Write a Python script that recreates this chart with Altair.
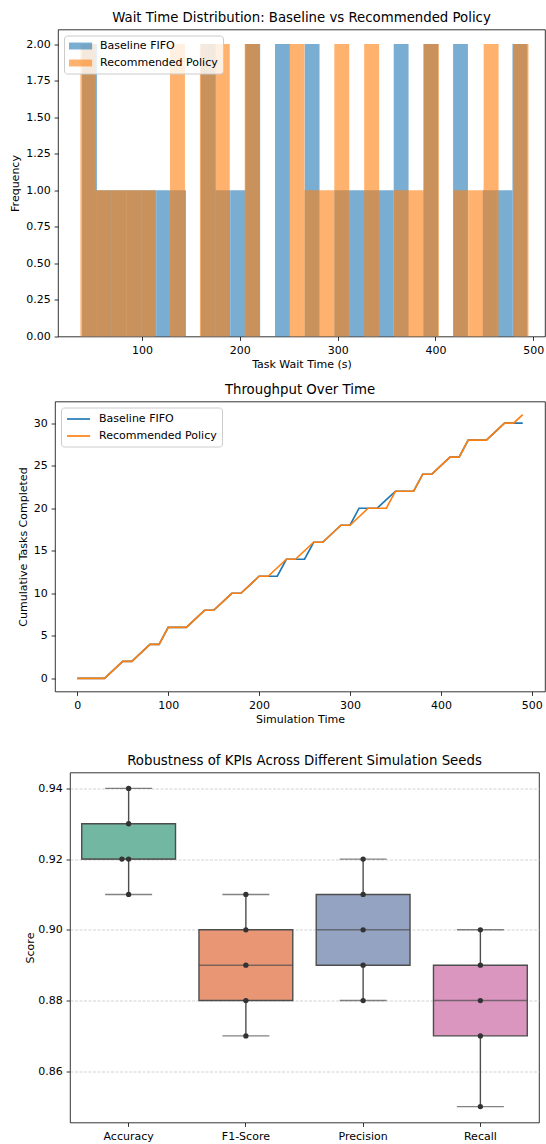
import altair as alt
import numpy as np
import pandas as pd

FONT = "DejaVu Sans"

# ---------------- Panel 1: wait-time histogram (30 bins per series) ----------------
hist_series = ["Baseline FIFO", "Recommended Policy"]
baseline_counts = [2, 1, 1, 1, 1, 1, 1, 0, 2, 1, 1, 2, 0, 2, 0,
                   2, 0, 1, 1, 1, 1, 2, 0, 2, 0, 2, 0, 1, 1, 2]
recommended_counts = [2, 1, 1, 1, 1, 0, 2, 0, 2, 2, 0, 2, 0, 0, 2,
                      1, 1, 2, 0, 2, 0, 1, 1, 2, 0, 1, 1, 2, 0, 2]
baseline_range = [38.7, 493.9]
recommended_range = [37.0, 495.1]

# ---------------- Panel 2: cumulative throughput ----------------
line_series = ["Baseline FIFO", "Recommended Policy"]
sim_time = [0, 10, 20, 30, 40, 50, 60, 70, 80, 90,
            100, 110, 120, 130, 140, 150, 160, 170, 180, 190,
            200, 210, 220, 230, 240, 250, 260, 270, 280, 290,
            300, 310, 320, 330, 340, 350, 360, 370, 380, 390,
            400, 410, 420, 430, 440, 450, 460, 470, 480, 490]
baseline_cum = [0, 0, 0, 0, 1, 2, 2, 3, 4, 4,
                6, 6, 6, 7, 8, 8, 9, 10, 10, 11,
                12, 12, 12, 14, 14, 14, 16, 16, 17, 18,
                18, 20, 20, 20, 21, 22, 22, 22, 24, 24,
                25, 26, 26, 28, 28, 28, 29, 30, 30, 30]
recommended_cum = [0, 0, 0, 0, 1, 2, 2, 3, 4, 4,
                   6, 6, 6, 7, 8, 8, 9, 10, 10, 11,
                   12, 12, 13, 14, 14, 15, 16, 16, 17, 18,
                   18, 19, 20, 20, 20, 22, 22, 22, 24, 24,
                   25, 26, 26, 28, 28, 28, 29, 30, 30, 31]

# ---------------- Panel 3: KPI robustness ----------------
kpi_names = ["Accuracy", "F1-Score", "Precision", "Recall"]
accuracy_scores = [0.92, 0.93, 0.94, 0.91, 0.92]
f1_scores = [0.89, 0.90, 0.91, 0.88, 0.87]
precision_scores = [0.90, 0.91, 0.92, 0.89, 0.88]
recall_scores = [0.88, 0.89, 0.90, 0.87, 0.85]
kpi_colors = ["#72b7a1", "#e99675", "#95a3c3", "#db96c0"]

BLUE = "#1f77b4"
ORANGE = "#ff7f0e"
GRAY = "#4d4d4d"
LABEL_SIZE = 11
TITLE_SIZE = 13.3

# ---------- build tables ----------
hist_rows = []
for name, counts, rng in [(hist_series[0], baseline_counts, baseline_range),
                          (hist_series[1], recommended_counts, recommended_range)]:
    edges = np.linspace(rng[0], rng[1], len(counts) + 1)
    for i, c in enumerate(counts):
        if c > 0:
            hist_rows.append({"series": name, "start": edges[i], "end": edges[i + 1],
                              "count": c, "zero": 0})
hist_df = pd.DataFrame(hist_rows)

line_df = pd.DataFrame({
    "time": sim_time + sim_time,
    "tasks": baseline_cum + recommended_cum,
    "series": [line_series[0]] * len(sim_time) + [line_series[1]] * len(sim_time),
})

box_rows, point_rows = [], []
for kpi, scores in zip(kpi_names, [accuracy_scores, f1_scores, precision_scores, recall_scores]):
    arr = np.array(scores)
    q1, med, q3 = np.percentile(arr, [25, 50, 75])
    iqr = q3 - q1
    lo = arr[arr >= q1 - 1.5 * iqr].min()
    hi = arr[arr <= q3 + 1.5 * iqr].max()
    box_rows.append({"kpi": kpi, "q1": q1, "median": med, "q3": q3, "lo": lo, "hi": hi})
    seen = {}
    for s in scores:
        k = seen.get(round(s, 4), 0)
        seen[round(s, 4)] = k + 1
        point_rows.append({"kpi": kpi, "score": s, "dodge": -k})
box_df = pd.DataFrame(box_rows)
point_df = pd.DataFrame(point_rows)

legend_common = dict(title=None, orient="top-left", offset=5.5,
                     labelFont=FONT, labelFontSize=LABEL_SIZE, labelColor="black",
                     labelOffset=20, rowPadding=5, padding=5, symbolSize=121,
                     fillColor="rgba(255,255,255,0.8)", strokeColor="#cccccc",
                     cornerRadius=3)

# ---------- Panel 1 ----------
hist = alt.Chart(hist_df).mark_rect(opacity=0.6).encode(
    x=alt.X("start:Q", scale=alt.Scale(domain=[14.1, 512.0], nice=False, zero=False),
            axis=alt.Axis(values=[100, 200, 300, 400, 500], title="Task Wait Time (s)",
                          titlePadding=3)),
    x2="end:Q",
    y=alt.Y("count:Q", scale=alt.Scale(domain=[0, 2.1], nice=False),
            axis=alt.Axis(values=[0, 0.25, 0.5, 0.75, 1.0, 1.25, 1.5, 1.75, 2.0],
                          format=".2f", title="Frequency", titlePadding=5)),
    y2="zero:Q",
    color=alt.Color("series:N", scale=alt.Scale(domain=hist_series, range=[BLUE, ORANGE]),
                    legend=alt.Legend(symbolType="M-1,-0.63L3.2,-0.63L3.2,0.63L-1,0.63Z",
                                      symbolOpacity=0.6, symbolStrokeWidth=0,
                                      **legend_common)),
).properties(width=487, height=307,
             title=alt.Title("Wait Time Distribution: Baseline vs Recommended Policy"))

# ---------- Panel 2 ----------
line = alt.Chart(line_df).mark_line(strokeWidth=1.67).encode(
    x=alt.X("time:Q", scale=alt.Scale(domain=[-24.5, 514.5], nice=False, zero=False),
            axis=alt.Axis(values=[0, 100, 200, 300, 400, 500], title="Simulation Time",
                          titlePadding=3)),
    y=alt.Y("tasks:Q", scale=alt.Scale(domain=[-1.55, 32.55], nice=False, zero=False),
            axis=alt.Axis(values=[0, 5, 10, 15, 20, 25, 30], title="Cumulative Tasks Completed",
                          titlePadding=4.4)),
    color=alt.Color("series:N", scale=alt.Scale(domain=line_series, range=[BLUE, ORANGE]),
                    legend=alt.Legend(symbolType="M-1,0L3.2,0", symbolStrokeWidth=1.67,
                                      **legend_common)),
).properties(width=490, height=290, title=alt.Title("Throughput Over Time"))

# ---------- Panel 3 ----------
band_center = 469 / 4 / 2
y_scale = alt.Scale(domain=[0.8455, 0.9445], nice=False, zero=False)
y_axis = alt.Axis(values=[0.86, 0.88, 0.90, 0.92, 0.94], format=".2f", title="Score",
                  titlePadding=2.5, grid=True, gridColor="#c8c8c8", gridDash=[3, 1.5],
                  gridWidth=0.8)
x_enc = alt.X("kpi:N", sort=kpi_names,
              scale=alt.Scale(domain=kpi_names, paddingInner=0, paddingOuter=0),
              axis=alt.Axis(title=None, labelAngle=0))


def yq(field):
    return alt.Y(f"{field}:Q", scale=y_scale, axis=y_axis)


box_base = alt.Chart(box_df)
whisker = box_base.mark_rule(color=GRAY, strokeWidth=1.4).encode(
    x=x_enc, y=yq("lo"), y2="hi:Q")
cap_lo = box_base.mark_tick(color=GRAY, size=47, thickness=1.4).encode(x=x_enc, y=yq("lo"))
cap_hi = box_base.mark_tick(color=GRAY, size=47, thickness=1.4).encode(x=x_enc, y=yq("hi"))
boxes = box_base.mark_bar(size=93.8, stroke=GRAY, strokeWidth=1.4, opacity=1).encode(
    x=x_enc, y=yq("q1"), y2="q3:Q",
    color=alt.Color("kpi:N", scale=alt.Scale(domain=kpi_names, range=kpi_colors), legend=None))
medians = box_base.mark_tick(color=GRAY, size=93.8, thickness=1.4).encode(
    x=x_enc, y=yq("median"))
points = alt.Chart(point_df).mark_circle(size=28, color="#333333", opacity=1).encode(
    x=x_enc, y=yq("score"),
    xOffset=alt.XOffset("dodge:Q", scale=alt.Scale(
        domain=[-1, 1], range=[band_center - 6.7, band_center + 6.7])))

box_chart = alt.layer(whisker, cap_lo, cap_hi, boxes, medians, points).properties(
    width=469, height=350,
    title=alt.Title("Robustness of KPIs Across Different Simulation Seeds"))


# ---------- invisible spacers that set each panel's left offset / extra gap ----------
def spacer(w, h):
    return alt.Chart(pd.DataFrame({"v": [0]})).mark_point(opacity=0, size=1).properties(
        width=w, height=h, view=alt.ViewBackground(strokeOpacity=0))


row1 = alt.hconcat(spacer(9, 1), hist, spacing=0).resolve_scale(color="independent")
row2 = alt.hconcat(spacer(17, 340), line, spacing=0).resolve_scale(color="independent")
row3 = alt.hconcat(spacer(23, 1), box_chart, spacing=0).resolve_scale(color="independent")

chart = alt.vconcat(row1, row2, row3, spacing=12).resolve_scale(
    color="independent"
).properties(
    padding={"left": 0, "top": 10.5, "right": 0, "bottom": 0}
).configure(font=FONT).configure_view(
    stroke="black", strokeWidth=0.8
).configure_axis(
    domain=False, grid=False, tickColor="black", tickSize=3.9, tickWidth=0.8,
    labelColor="black", labelFont=FONT, labelFontSize=LABEL_SIZE, labelPadding=3.9,
    titleColor="black", titleFont=FONT, titleFontSize=LABEL_SIZE, titleFontWeight="normal"
).configure_title(
    font=FONT, fontSize=TITLE_SIZE, fontWeight="normal", color="black", offset=5,
    baseline="bottom", anchor="middle"
)

chart.save("out.html", embed_options={"renderer": "svg", "actions": False})
